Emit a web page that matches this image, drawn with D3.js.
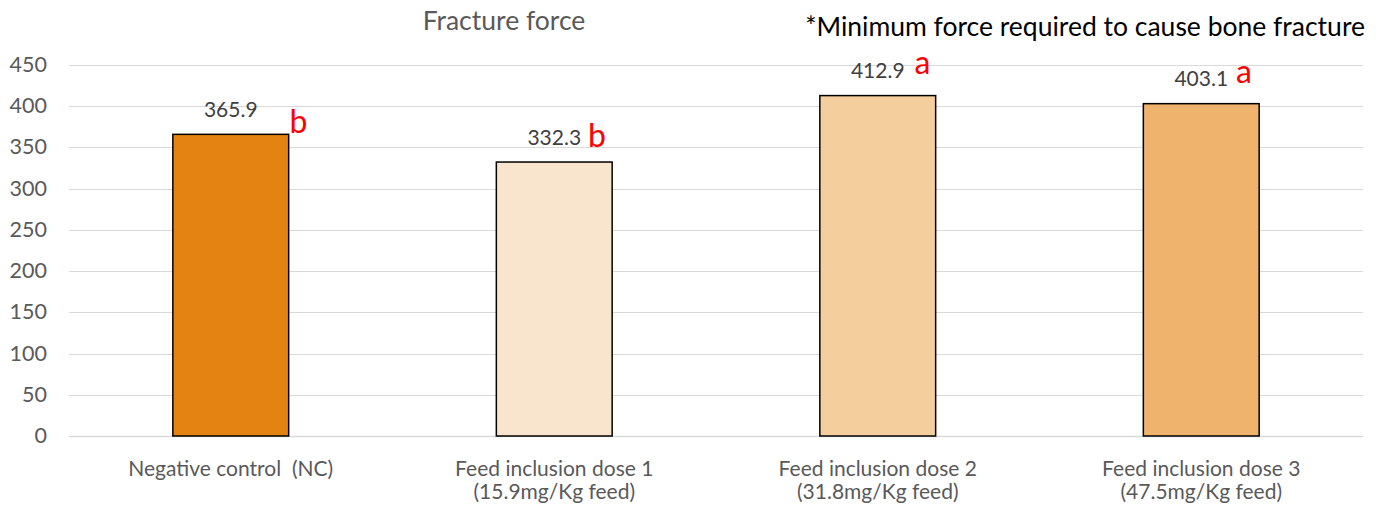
<!DOCTYPE html>
<html>
<head>
<meta charset="utf-8">
<script src="https://cdn.jsdelivr.net/npm/d3@7"></script>
<style>
body { margin: 0; background: #fff; }
svg text { font-family: Lato, "Liberation Sans", sans-serif; }
</style>
</head>
<body>
<svg id="chart" width="1382" height="512"></svg>
<script>
// data
var categories = [
	["Negative control  (NC)"],
	["Feed inclusion dose 1", "(15.9mg/Kg feed)"],
	["Feed inclusion dose 2", "(31.8mg/Kg feed)"],
	["Feed inclusion dose 3", "(47.5mg/Kg feed)"]
];
var values = [365.9, 332.3, 412.9, 403.1];
var letters = ["b", "b", "a", "a"];
var yTicks = [0, 50, 100, 150, 200, 250, 300, 350, 400, 450];

// styles
var barColors = ["#e48312", "#f9e5cd", "#f5ce9e", "#f0b36e"];
// where each letter sits relative to the end of its value label (dx, dy)
var letterOffsets = [[32, 16], [7, 2], [10, -4], [8, -3]];

var svg = d3.select("#chart");

var x = d3.scaleBand()
	.domain(d3.range(categories.length))
	.range([69, 1363])
	.paddingInner(0.642)
	.paddingOuter(0.321);

var y = d3.scaleLinear()
	.domain([0, 450])
	.range([436, 65]);

// gridlines
svg.append("g")
	.selectAll("line")
	.data(yTicks)
	.enter()
	.append("line")
		.attr("x1", 69)
		.attr("x2", 1363)
		.attr("y1", d => Math.round(y(d)) + 0.5)
		.attr("y2", d => Math.round(y(d)) + 0.5)
		.attr("stroke", "#d9d9d9")
		.attr("stroke-width", d => d == 0 ? 1.5 : 1.2);

// y tick labels
svg.append("g")
	.selectAll("text")
	.data(yTicks)
	.enter()
	.append("text")
		.attr("x", 47)
		.attr("y", d => y(d) + 7)
		.attr("text-anchor", "end")
		.attr("font-size", "21.5px")
		.attr("fill", "#595959")
		.text(d => d);

// bars
svg.append("g")
	.selectAll("rect")
	.data(values)
	.enter()
	.append("rect")
		.attr("x", (d, i) => x(i))
		.attr("y", d => y(d))
		.attr("width", x.bandwidth())
		.attr("height", d => y(0) - y(d))
		.attr("fill", (d, i) => barColors[i])
		.attr("stroke", "#000")
		.attr("stroke-width", 1.5);

// value labels + letters
var labels = svg.append("g");
values.forEach(function(v, i){
	var cx = x(i) + x.bandwidth() / 2;
	var t = labels.append("text")
		.attr("x", cx)
		.attr("y", y(v) - 17.5)
		.attr("text-anchor", "middle")
		.attr("font-size", "21px")
		.attr("fill", "#404040")
		.text(v.toFixed(1));
	var w = t.node().getComputedTextLength();
	labels.append("text")
		.attr("x", cx + w / 2 + letterOffsets[i][0])
		.attr("y", y(v) - 17.5 + letterOffsets[i][1])
		.attr("font-size", "32px")
		.attr("fill", "#ff0000")
		.text(letters[i]);
});

// category labels
var cat = svg.append("g");
categories.forEach(function(lines, i){
	var cx = x(i) + x.bandwidth() / 2;
	lines.forEach(function(line, j){
		cat.append("text")
			.attr("x", cx)
			.attr("y", 476 + j * 23)
			.attr("text-anchor", "middle")
			.attr("font-size", "21px")
			.attr("fill", "#595959")
			.attr("xml:space", "preserve")
			.style("white-space", "pre")
			.text(line);
	});
});

// title
svg.append("text")
	.attr("x", 504)
	.attr("y", 30)
	.attr("text-anchor", "middle")
	.attr("font-size", "26.5px")
	.attr("fill", "#595959")
	.text("Fracture force");

// note
svg.append("text")
	.attr("x", 1365)
	.attr("y", 36)
	.attr("text-anchor", "end")
	.attr("font-size", "26.5px")
	.attr("fill", "#000")
	.text("*Minimum force required to cause bone fracture");
</script>
</body>
</html>
